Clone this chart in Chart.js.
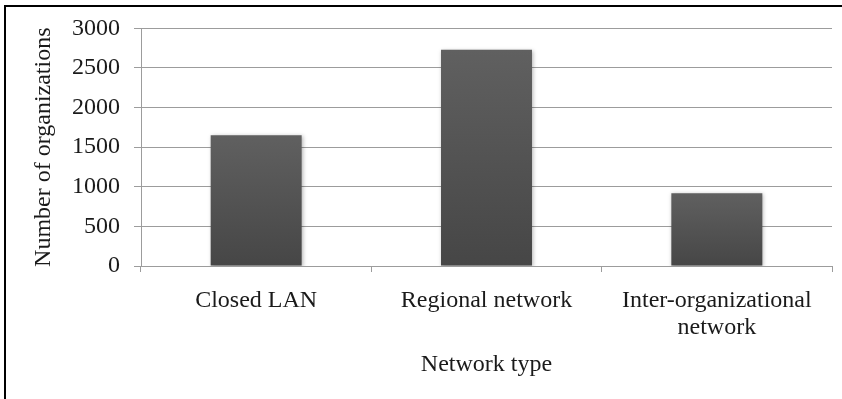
<!DOCTYPE html>
<html>
<head>
<meta charset="utf-8">
<script src="https://cdn.jsdelivr.net/npm/chart.js@4"></script>
<style>
  html, body { margin: 0; padding: 0; background: #ffffff; }
  #wrap { width: 842px; height: 399px; position: relative; }
</style>
</head>
<body>
<div id="wrap"><canvas id="chart" width="842" height="399"></canvas></div>
<script>
// Network types on the category axis (last one wraps over two lines)
const categories = ['Closed LAN', 'Regional network', ['Inter-organizational', 'network']];
// Number of organizations per network type
const organizations = [1650, 2730, 920];
// Value axis range
const yMin = 0;
const yMax = 3000;
const yStep = 500;

const serif = '"Liberation Serif", "Times New Roman", serif';
const textColor = '#1a1a1a';
const gridColor = '#9c9c9c';

// Outer frame lines along the top and left edges
const framePlugin = {
  id: 'frame',
  afterDraw(chart) {
    const c = chart.ctx;
    c.save();
    c.strokeStyle = '#000000';
    c.lineWidth = 2;
    c.beginPath();
    c.moveTo(4, 6);
    c.lineTo(chart.width, 6);
    c.moveTo(5, 5);
    c.lineTo(5, chart.height);
    c.stroke();
    c.restore();
  }
};

// Soft drop shadow under the bars
const barShadow = {
  id: 'barShadow',
  beforeDatasetsDraw(chart) {
    const c = chart.ctx;
    c.save();
    c.shadowColor = 'rgba(0,0,0,0.30)';
    c.shadowBlur = 4;
    c.shadowOffsetX = 1;
    c.shadowOffsetY = 1;
  },
  afterDatasetsDraw(chart) {
    chart.ctx.restore();
  }
};

function barGradient(context) {
  const chart = context.chart;
  const yScale = chart.scales.y;
  if (!chart.chartArea || !yScale || context.parsed === undefined) return '#555555';
  const top = yScale.getPixelForValue(context.parsed.y);
  const bottom = yScale.getPixelForValue(0);
  const g = chart.ctx.createLinearGradient(0, top, 0, bottom);
  g.addColorStop(0, '#606060');
  g.addColorStop(1, '#464646');
  return g;
}

new Chart(document.getElementById('chart'), {
  type: 'bar',
  data: {
    labels: categories,
    datasets: [{
      label: 'Number of organizations',
      data: organizations,
      backgroundColor: barGradient,
      borderWidth: 0,
      categoryPercentage: 1.0,
      barPercentage: 0.395
    }]
  },
  options: {
    responsive: false,
    animation: false,
    devicePixelRatio: 1,
    layout: { padding: { left: 0, right: 10, top: 28, bottom: 0 } },
    plugins: {
      legend: { display: false },
      tooltip: { enabled: false }
    },
    scales: {
      x: {
        grid: {
          display: true,
          offset: true,
          drawOnChartArea: false,
          drawTicks: true,
          tickLength: 6,
          color: gridColor
        },
        border: { display: true, color: gridColor, width: 1 },
        ticks: {
          color: textColor,
          font: { family: serif, size: 24, lineHeight: 1.12 },
          padding: 15,
          maxRotation: 0,
          minRotation: 0,
          autoSkip: false
        },
        title: {
          display: true,
          text: 'Network type',
          color: textColor,
          font: { family: serif, size: 24, lineHeight: 1.2 },
          padding: { top: 0, bottom: 20 }
        },
        afterFit(scale) { scale.height = 133; }
      },
      y: {
        min: yMin,
        max: yMax,
        grid: {
          color: gridColor,
          lineWidth: 1,
          drawTicks: true,
          tickLength: 7
        },
        border: { display: true, color: gridColor, width: 1 },
        ticks: {
          stepSize: yStep,
          color: textColor,
          font: { family: serif, size: 24 },
          padding: 14,
          callback: (value) => String(value)
        },
        title: {
          display: true,
          text: 'Number of organizations',
          color: textColor,
          font: { family: serif, size: 24, lineHeight: 1.2 },
          padding: { top: 29, bottom: 0 }
        },
        afterFit(scale) { scale.width = 141; }
      }
    }
  },
  plugins: [barShadow, framePlugin]
});
</script>
</body>
</html>
